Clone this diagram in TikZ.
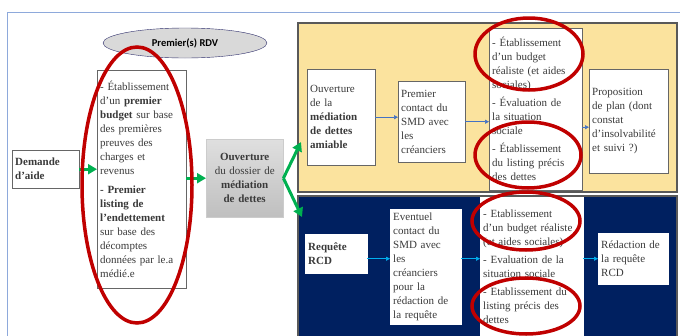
\documentclass[tikz,border=0pt]{standalone}
\usepackage{fontspec}
\setmainfont{Liberation Serif}
\newfontfamily\rdvfont{Carlito}
\usetikzlibrary{shapes.geometric,arrows.meta}

\definecolor{framebl}{HTML}{8EA9DB}
\definecolor{amiable}{HTML}{FBE39E}
\definecolor{navy}{HTML}{002060}
\definecolor{ringred}{HTML}{C00000}
\definecolor{arrowgr}{HTML}{00B050}
\definecolor{txt}{HTML}{3A3A3A}
\definecolor{arrowbl}{HTML}{4472C4}
\definecolor{arrowcy}{HTML}{00B0F0}

\begin{document}
\begin{tikzpicture}[x=1pt,y=-1pt,
  box/.style={draw=gray!80!black, fill=white, anchor=north west, align=left,
    inner xsep=3pt, text=txt, font=\fontsize{11}{14}\selectfont},
  panel/.style={draw=gray!70!black, line width=1.2pt},
  redring/.style={draw=ringred, line width=3.5pt},
  greenarrow/.style={arrowgr, line width=3pt, -{Triangle[length=9pt,width=10pt]}},
  bluearrow/.style={arrowbl, line width=0.6pt, -{Triangle[length=4pt,width=4pt]}}]
  \useasboundingbox (0,0) rectangle (680,335);
  \clip (0,0) rectangle (680,335);

  % cadre et zones
  \draw[framebl, line width=1pt] (7,12) rectangle (700,360);
  \draw[panel, fill=amiable] (298,23) rectangle (677,192);
  \draw[panel, fill=navy] (298,196) rectangle (677,360);

  % premier(s) RDV
  \node[ellipse, draw=gray!60!blue!60!black, fill=gray!30, minimum width=164, minimum height=30,
    font=\rdvfont\bfseries\fontsize{10.5}{12}\selectfont] (rdv) at (185,43) {Premier(s) RDV};
  \node[box, text width=61, minimum height=38] (demande) at (12,150) {\textbf{Demande}\\ \textbf{d'aide}};
  \node[box, text width=83, minimum height=218] (premier) at (97,70) {- Établissement\\ d'un \textbf{premier}\\
    \textbf{budget} sur base\\ des premières\\ preuves des\\ charges et\\ revenus\\[5pt]
    \textbf{- Premier}\\ \textbf{listing de}\\ \textbf{l'endettement}\\ sur base des\\ décomptes\\
    données par le.a\\ médié.e};
  \node[box, draw=gray!40, top color=gray!25, bottom color=gray!50, align=center, text width=71,
    minimum height=78] (dossier) at (206,139) {\textbf{Ouverture}\\ du dossier de\\ \textbf{médiation}\\ \textbf{de dettes}};

  % mediation amiable
  \node[box, text width=62, minimum height=96] (ouvamiable) at (307,69) {Ouverture\\ de la\\
    \textbf{médiation}\\ \textbf{de dettes}\\ \textbf{amiable}};
  \node[box, text width=61, minimum height=81] (contact) at (398,81) {Premier\\ contact du\\ SMD avec\\ les\\ créanciers};
  \node[box, text width=87, minimum height=162] (etabamiable) at (489,28) {- Établissement\\ d'un budget\\
    réaliste (et aides\\ sociales)\\[4pt] - Évaluation de\\ la situation\\ sociale\\[4pt]
    - Établissement\\ du listing précis\\ des dettes};
  \node[box, text width=73, minimum height=104] (plan) at (589,69) {Proposition\\ de plan (dont\\ constat\\
    d'insolvabilité\\ et suivi ?)};

  % requete RCD
  \node[box, draw=white, text width=56, minimum height=39] (requete) at (305,234) {\textbf{Requête}\\ \textbf{RCD}};
  \node[box, draw=white, text width=65, minimum height=115] (eventuel) at (390,209) {Eventuel\\ contact du\\
    SMD avec\\ les\\ créanciers\\ pour la\\ rédaction de\\ la requête};
  \node[box, draw=white, text width=97, minimum height=140] (etabrcd) at (480,197) {- Etablissement\\
    d'un budget réaliste\\ (et aides sociales)\\[4pt] - Evaluation de la\\ situation sociale\\[4pt]
    - Etablissement du\\ listing précis des\\ dettes};
  \node[box, draw=white, text width=64, minimum height=51] (redaction) at (598,233) {Rédaction de\\ la requête\\ RCD};

  % fleches
  \coordinate (versamiable) at (301,142);
  \coordinate (versrcd) at (302,217);
  \draw[greenarrow] (demande.east) -- (demande.east -| premier.west);
  \draw[greenarrow] (premier.east |- dossier.west) -- (dossier.west);
  \draw[greenarrow] (dossier.east) -- (versamiable);
  \draw[greenarrow] (dossier.east) -- (versrcd);
  \draw[bluearrow] (ouvamiable.east) -- (ouvamiable.east -| contact.west);
  \draw[bluearrow] (contact.east) -- (contact.east -| etabamiable.west);
  \draw[bluearrow] ([yshift=-6pt]etabamiable.east |- plan.west) -- ([yshift=-6pt]plan.west);
  \draw[bluearrow, arrowcy] (requete.east |- redaction.west) -- (eventuel.west |- redaction.west);
  \draw[bluearrow, arrowcy] (eventuel.east |- redaction.west) -- (etabrcd.west |- redaction.west);
  \draw[bluearrow, arrowcy] (etabrcd.east |- redaction.west) -- (redaction.west);

  % cercles rouges
  \draw[redring] (137,185) ellipse [x radius=55, y radius=138];
  \draw[redring] (529,54) ellipse [x radius=54, y radius=36];
  \draw[redring] (528,155) ellipse [x radius=53, y radius=33];
  \draw[redring] (526,221) ellipse [x radius=54, y radius=29];
  \draw[redring] (526,306) ellipse [x radius=54, y radius=28];
\end{tikzpicture}
\end{document}
